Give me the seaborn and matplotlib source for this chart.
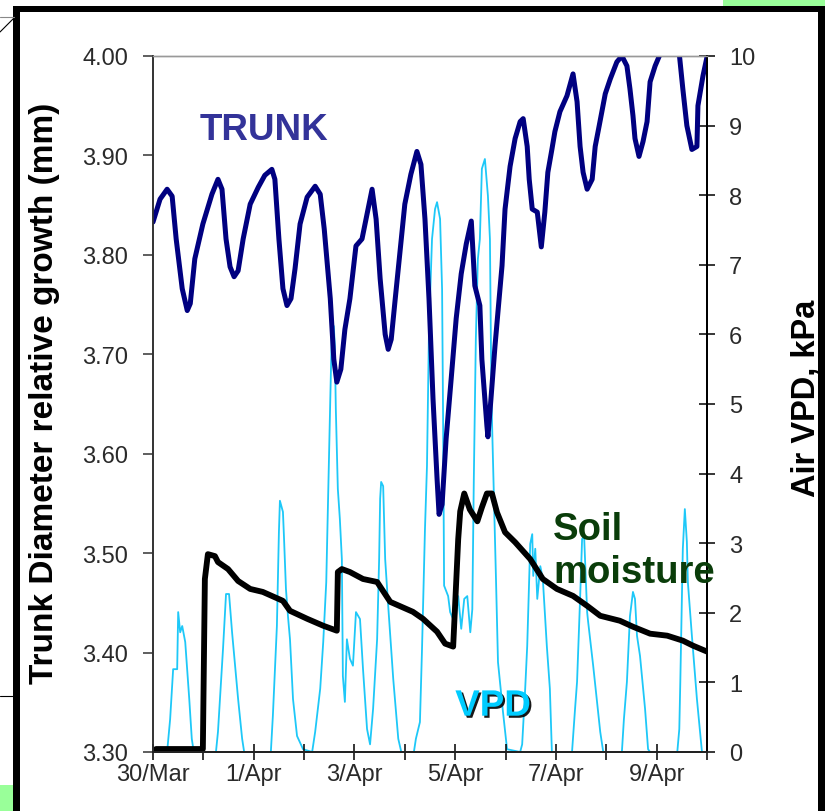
import matplotlib
matplotlib.use('Agg')
import matplotlib.pyplot as plt
import matplotlib.patheffects as pe
from matplotlib.patches import Rectangle
from matplotlib.lines import Line2D
import seaborn as sns
import pandas as pd

# days since 30/Mar 00:00
trunk_day = [0.00, 0.14, 0.28, 0.38, 0.46, 0.58, 0.68, 0.74, 0.83, 0.99,
             1.17, 1.29, 1.37, 1.45, 1.53, 1.61, 1.69, 1.79, 1.93, 2.09,
             2.22, 2.36, 2.42, 2.50, 2.58, 2.66, 2.74, 2.82, 2.92, 3.06,
             3.22, 3.32, 3.40, 3.52, 3.59, 3.65, 3.73, 3.81, 3.91, 4.03,
             4.15, 4.25, 4.35, 4.43, 4.51, 4.61, 4.67, 4.73, 4.81, 4.91,
             5.00, 5.12, 5.24, 5.32, 5.40, 5.48, 5.56, 5.64, 5.68, 5.74,
             5.82, 5.92, 6.02, 6.12, 6.22, 6.32, 6.39, 6.49, 6.53, 6.57,
             6.63, 6.65, 6.71, 6.79, 6.85, 6.93, 6.99, 7.09, 7.19, 7.29,
             7.35, 7.43, 7.47, 7.53, 7.63, 7.71, 7.78, 7.84, 7.92, 7.98,
             8.08, 8.22, 8.34, 8.42, 8.48, 8.54, 8.62, 8.72, 8.78, 8.86,
             8.98, 9.08, 9.21, 9.31, 9.41, 9.47, 9.53, 9.57, 9.65, 9.73,
             9.81, 9.87, 9.97, 10.07, 10.23, 10.37, 10.45, 10.52, 10.60, 10.70,
             10.80, 10.82, 10.92, 11.00]
trunk_mm = [3.833, 3.856, 3.866, 3.859, 3.816, 3.766, 3.744, 3.751, 3.796, 3.831,
            3.861, 3.876, 3.866, 3.816, 3.788, 3.778, 3.784, 3.816, 3.851, 3.868,
            3.880, 3.886, 3.876, 3.816, 3.766, 3.749, 3.756, 3.786, 3.831, 3.858,
            3.869, 3.861, 3.826, 3.756, 3.695, 3.672, 3.685, 3.725, 3.756, 3.809,
            3.816, 3.841, 3.866, 3.836, 3.776, 3.720, 3.705, 3.715, 3.756, 3.806,
            3.851, 3.881, 3.904, 3.891, 3.836, 3.756, 3.655, 3.575, 3.539, 3.549,
            3.615, 3.675, 3.736, 3.781, 3.811, 3.834, 3.769, 3.749, 3.695, 3.668,
            3.628, 3.617, 3.655, 3.708, 3.743, 3.789, 3.846, 3.889, 3.917, 3.934,
            3.937, 3.909, 3.876, 3.846, 3.843, 3.808, 3.843, 3.883, 3.906, 3.924,
            3.944, 3.960, 3.982, 3.954, 3.909, 3.883, 3.866, 3.876, 3.909, 3.930,
            3.962, 3.977, 3.994, 4.000, 3.990, 3.967, 3.940, 3.917, 3.899, 3.914,
            3.934, 3.974, 3.990, 4.002, 4.017, 4.017, 4.002, 3.967, 3.930, 3.906,
            3.909, 3.950, 3.980, 3.999]

soil_day = [0.06, 0.99, 1.03, 1.09, 1.23, 1.29, 1.49, 1.69, 1.93, 2.18,
            2.58, 2.72, 3.06, 3.38, 3.65, 3.67, 3.75, 3.91, 4.17, 4.45,
            4.71, 5.16, 5.36, 5.64, 5.80, 5.96, 6.06, 6.10, 6.18, 6.29,
            6.44, 6.53, 6.63, 6.73, 6.83, 6.99, 7.19, 7.49, 7.74, 8.02,
            8.34, 8.62, 8.88, 9.27, 9.53, 9.87, 10.21, 10.52, 10.72, 11.00]
soil_val = [3.303, 3.303, 3.474, 3.499, 3.497, 3.491, 3.484, 3.472, 3.464, 3.461,
            3.452, 3.442, 3.434, 3.427, 3.422, 3.481, 3.484, 3.481, 3.474, 3.471,
            3.451, 3.441, 3.434, 3.421, 3.409, 3.406, 3.514, 3.542, 3.560, 3.544,
            3.532, 3.546, 3.560, 3.560, 3.541, 3.521, 3.511, 3.494, 3.474, 3.464,
            3.457, 3.447, 3.437, 3.432, 3.426, 3.419, 3.417, 3.412, 3.407, 3.401]

vpd_day = [0.00, 0.28, 0.34, 0.40, 0.48, 0.50, 0.54, 0.58, 0.64, 0.72,
           0.77, 0.81, 1.25, 1.29, 1.33, 1.39, 1.45, 1.51, 1.57, 1.63,
           1.69, 1.77, 1.81, 2.34, 2.38, 2.46, 2.50, 2.52, 2.58, 2.60,
           2.64, 2.68, 2.72, 2.78, 2.86, 2.98, 3.16, 3.22, 3.32, 3.38,
           3.44, 3.48, 3.52, 3.55, 3.59, 3.61, 3.63, 3.67, 3.71, 3.75,
           3.77, 3.81, 3.85, 3.91, 3.97, 4.03, 4.11, 4.17, 4.25, 4.31,
           4.37, 4.45, 4.49, 4.51, 4.53, 4.57, 4.61, 4.67, 4.77, 4.87,
           4.93, 5.18, 5.22, 5.30, 5.34, 5.40, 5.44, 5.48, 5.54, 5.60,
           5.64, 5.70, 5.74, 5.76, 5.78, 5.86, 5.90, 6.00, 6.06, 6.12,
           6.18, 6.24, 6.30, 6.34, 6.37, 6.41, 6.45, 6.49, 6.53, 6.59,
           6.65, 6.69, 6.71, 6.73, 6.77, 6.81, 6.85, 6.95, 7.03, 7.29,
           7.33, 7.39, 7.43, 7.49, 7.53, 7.55, 7.59, 7.63, 7.69, 7.74,
           7.82, 7.88, 7.92, 8.32, 8.38, 8.42, 8.48, 8.52, 8.56, 8.62,
           8.64, 8.74, 8.88, 8.94, 9.31, 9.35, 9.41, 9.47, 9.53, 9.57,
           9.61, 9.67, 9.77, 9.83, 9.87, 10.41, 10.45, 10.47, 10.52, 10.56,
           10.60, 10.62, 10.70, 10.80, 10.90, 11.00]
vpd_kpa = [0.00, 0.00, 0.47, 1.19, 1.19, 2.01, 1.72, 1.81, 1.58, 0.76,
           0.19, 0.00, 0.00, 0.29, 0.76, 1.48, 2.27, 2.27, 1.72, 1.24,
           0.76, 0.19, 0.00, 0.00, 0.52, 1.81, 3.16, 3.61, 3.45, 3.10,
           2.34, 1.95, 1.62, 0.76, 0.23, 0.04, 0.00, 0.29, 0.91, 1.58,
           2.44, 3.78, 5.07, 6.01, 6.12, 5.83, 4.93, 3.78, 3.35, 2.77,
           1.09, 0.72, 1.62, 1.34, 1.24, 2.01, 1.91, 1.19, 0.33, 0.11,
           0.62, 1.62, 2.77, 3.64, 3.88, 3.82, 2.77, 2.10, 1.05, 0.19,
           0.00, 0.00, 0.19, 0.43, 1.44, 3.20, 4.11, 6.08, 7.37, 7.80,
           7.90, 7.66, 6.65, 4.78, 2.39, 2.24, 2.01, 1.84, 2.24, 1.77,
           2.20, 2.24, 1.72, 2.05, 3.92, 5.93, 7.08, 7.37, 8.38, 8.52,
           7.99, 7.37, 5.83, 4.78, 3.64, 2.49, 1.29, 0.57, 0.04, 0.00,
           0.11, 0.91, 1.52, 2.99, 3.13, 2.53, 2.92, 2.20, 2.67, 2.49,
           1.52, 0.91, 0.00, 0.00, 0.62, 1.01, 2.20, 3.06, 3.10, 2.01,
           1.87, 1.24, 0.29, 0.00, 0.00, 0.47, 1.01, 1.95, 2.30, 2.20,
           1.67, 1.38, 0.62, 0.04, 0.00, 0.00, 0.33, 1.01, 2.92, 3.49,
           3.02, 2.44, 1.67, 0.76, 0.00, 0.00]

day_ticks = list(range(12))
day_labels = ['30/Mar', '', '1/Apr', '', '3/Apr', '', '5/Apr', '', '7/Apr', '', '9/Apr', '']
left_ticks = [3.30, 3.40, 3.50, 3.60, 3.70, 3.80, 3.90, 4.00]
right_ticks = list(range(11))

trunk = pd.DataFrame({'day': trunk_day, 'mm': trunk_mm})
soil = pd.DataFrame({'day': soil_day, 'val': soil_val})
vpd = pd.DataFrame({'day': vpd_day, 'kpa': vpd_kpa})

sns.set_theme(style='white')
plt.rcParams['font.family'] = ['Liberation Sans', 'DejaVu Sans']

W, H = 825, 812
fig = plt.figure(figsize=(W / 100, H / 100), dpi=100)
fig.patch.set_facecolor('white')

def fx(x):
    return x / W

def fy(y):
    return 1 - y / H

# slide decorations around the chart
fig.patches.append(Rectangle((fx(723), fy(7)), fx(102), 7 / H, transform=fig.transFigure,
                             facecolor='#99ff99', edgecolor='none'))
fig.patches.append(Rectangle((0, 0), fx(13), 26 / H, transform=fig.transFigure,
                             facecolor='#99ff99', edgecolor='none'))
fig.lines.append(Line2D([0, fx(15)], [fy(33), fy(18)], transform=fig.transFigure, color='black', lw=0.8))
fig.lines.append(Line2D([0, fx(14)], [fy(18), fy(18)], transform=fig.transFigure, color='#888888', lw=0.8))
fig.lines.append(Line2D([0, fx(14)], [fy(697), fy(697)], transform=fig.transFigure, color='black', lw=0.8))
fig.patches.append(Rectangle((fx(13), fy(13)), fx(812), 6 / H, transform=fig.transFigure,
                             facecolor='black', edgecolor='none'))
fig.patches.append(Rectangle((fx(13), 0), fx(7), fy(7), transform=fig.transFigure,
                             facecolor='black', edgecolor='none'))
fig.patches.append(Rectangle((fx(818), 0), fx(7), fy(7), transform=fig.transFigure,
                             facecolor='black', edgecolor='none'))

ax = fig.add_axes([fx(153), fy(753), fx(554), 696 / H])
ax2 = ax.twinx()
ax.set_zorder(ax2.get_zorder() + 1)
ax.patch.set_visible(False)

sns.lineplot(data=vpd, x='day', y='kpa', ax=ax2, color='#1ec8f8', lw=1.3,
             estimator=None, sort=False)
sns.lineplot(data=soil, x='day', y='val', ax=ax, color='black', lw=4.2,
             estimator=None, sort=False)
sns.lineplot(data=trunk, x='day', y='mm', ax=ax, color='#000080', lw=3.6,
             estimator=None, sort=False)

ax.set_xlim(0, 11)
ax.set_ylim(3.30, 4.00)
ax2.set_ylim(0, 10)

ax.set_xticks(day_ticks)
ax.set_xticklabels(day_labels)
ax.set_yticks(left_ticks)
ax.set_yticklabels(['%.2f' % v for v in left_ticks])
ax2.set_yticks(right_ticks)
ax2.set_yticklabels([str(v) for v in right_ticks])

tick_col = '#2a2a2a'
ax.tick_params(axis='x', direction='inout', length=12, width=1.1, color='black',
               labelsize=17, labelcolor=tick_col, pad=2, bottom=True)
ax.tick_params(axis='y', direction='out', length=7, width=1.1, color='#333333',
               labelsize=17, labelcolor=tick_col, pad=11, left=True)
ax2.tick_params(axis='y', direction='inout', length=12, width=1.1, color='black',
                labelsize=17, labelcolor=tick_col, pad=10, right=True)

for a in (ax, ax2):
    a.spines['top'].set_color('#999999')
    a.spines['top'].set_linewidth(1.0)
    a.spines['left'].set_color('#333333')
    a.spines['left'].set_linewidth(1.2)
    a.spines['right'].set_color('black')
    a.spines['right'].set_linewidth(1.4)
    a.spines['bottom'].set_color('#222222')
    a.spines['bottom'].set_linewidth(1.4)
ax2.grid(False)
ax.grid(False)

ax.set_xlabel('')
ax.set_ylabel('Trunk Diameter relative growth (mm)', fontsize=24, fontweight='bold', color='black')
ax.yaxis.set_label_coords(-0.168, 0.517)
ax2.set_ylabel('Air VPD, kPa', fontsize=23.5, fontweight='bold', color='black', rotation=90)
ax2.yaxis.set_label_coords(1.152, 0.51)

ax.text(0.93, 3.9165, 'TRUNK', color='#333399', fontsize=26.5, fontweight='bold',
        ha='left', va='baseline')
ax.text(7.94, 3.514, 'Soil', color='#0a3d0a', fontsize=27.5, fontweight='bold',
        ha='left', va='baseline')
ax.text(7.94, 3.471, 'moisture', color='#0a3d0a', fontsize=27.5, fontweight='bold',
        ha='left', va='baseline', clip_on=False)
ax.text(6.0, 3.3365, 'VPD', color='#00ccff', fontsize=26.5, fontweight='bold',
        ha='left', va='baseline',
        path_effects=[pe.withSimplePatchShadow(offset=(1.5, -1.5), shadow_rgbFace='black', alpha=0.9)])

fig.savefig('out.png', dpi=100)
